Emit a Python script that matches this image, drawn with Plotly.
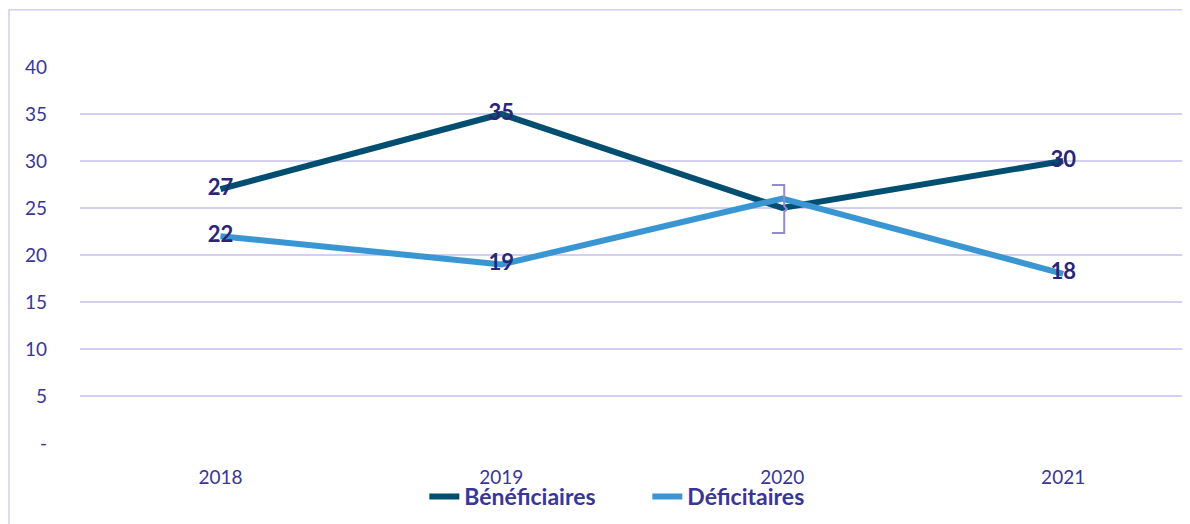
import plotly.graph_objects as go

# data
years = ["2018", "2019", "2020", "2021"]
beneficiaires = [27, 35, 25, 30]
deficitaires = [22, 19, 26, 18]
# labels shown on the chart (2020 labels hidden)
labels_benef = ["27", "35", "", "30"]
labels_defic = ["22", "19", "", "18"]
y_ticks = [0, 5, 10, 15, 20, 25, 30, 35, 40]
y_ticktext = ["-", "5", "10", "15", "20", "25", "30", "35", "40"]

text_color = "#3a3596"
label_color = "#2b2577"
grid_color = "#d3cff0"

fig = go.Figure()
fig.add_trace(go.Scatter(
    x=years, y=beneficiaires, name="Bénéficiaires",
    mode="lines+text", text=labels_benef, textposition="middle center",
    textfont=dict(size=22, color=label_color, family="Lato", weight="bold"),
    line=dict(color="#004f71", width=6),
))
fig.add_trace(go.Scatter(
    x=years, y=deficitaires, name="Déficitaires",
    mode="lines+text", text=labels_defic, textposition="middle center",
    textfont=dict(size=22, color=label_color, family="Lato", weight="bold"),
    line=dict(color="#3a96d2", width=6),
))

# small bracket drawn next to the 2020 crossing
fig.add_shape(type="path", xref="x", yref="y",
              path="M 1.963,27.45 L 2.007,27.45 L 2.007,25.2 L 2.016,24.9 L 2.007,24.6 L 2.007,22.35 L 1.963,22.35",
              line=dict(color="#9089d8", width=2))

# outer frame
fig.add_shape(type="rect", xref="paper", yref="paper",
              x0=-0.0635, x1=1.01, y0=-0.3, y1=1.152,
              line=dict(color=grid_color, width=1.5), layer="below")

fig.update_layout(
    width=1190, height=524,
    margin=dict(l=72, r=0, t=59, b=89, autoexpand=False),
    paper_bgcolor="white", plot_bgcolor="white",
    font=dict(family="Lato", color=text_color, size=16),
    showlegend=True,
    legend=dict(orientation="h", xanchor="left", x=0.308, yanchor="top", y=-0.085,
                bgcolor="rgba(0,0,0,0)",
                font=dict(size=23, color=text_color, family="Lato", weight="bold"),
                entrywidth=178, entrywidthmode="pixels", tracegroupgap=0),
)
fig.update_xaxes(type="category", range=[-0.5, 3.48], showgrid=False,
                 showline=False, ticks="", ticklabelstandoff=21, automargin=False,
                 tickfont=dict(size=19, color=text_color))
fig.update_yaxes(range=[0, 40], tickvals=y_ticks, ticktext=y_ticktext,
                 showgrid=True, gridcolor=grid_color, gridwidth=2, automargin=False,
                 zeroline=False, showline=False, ticks="", ticklabelstandoff=32,
                 tickfont=dict(size=19, color=text_color))

fig.write_html("out.html")
